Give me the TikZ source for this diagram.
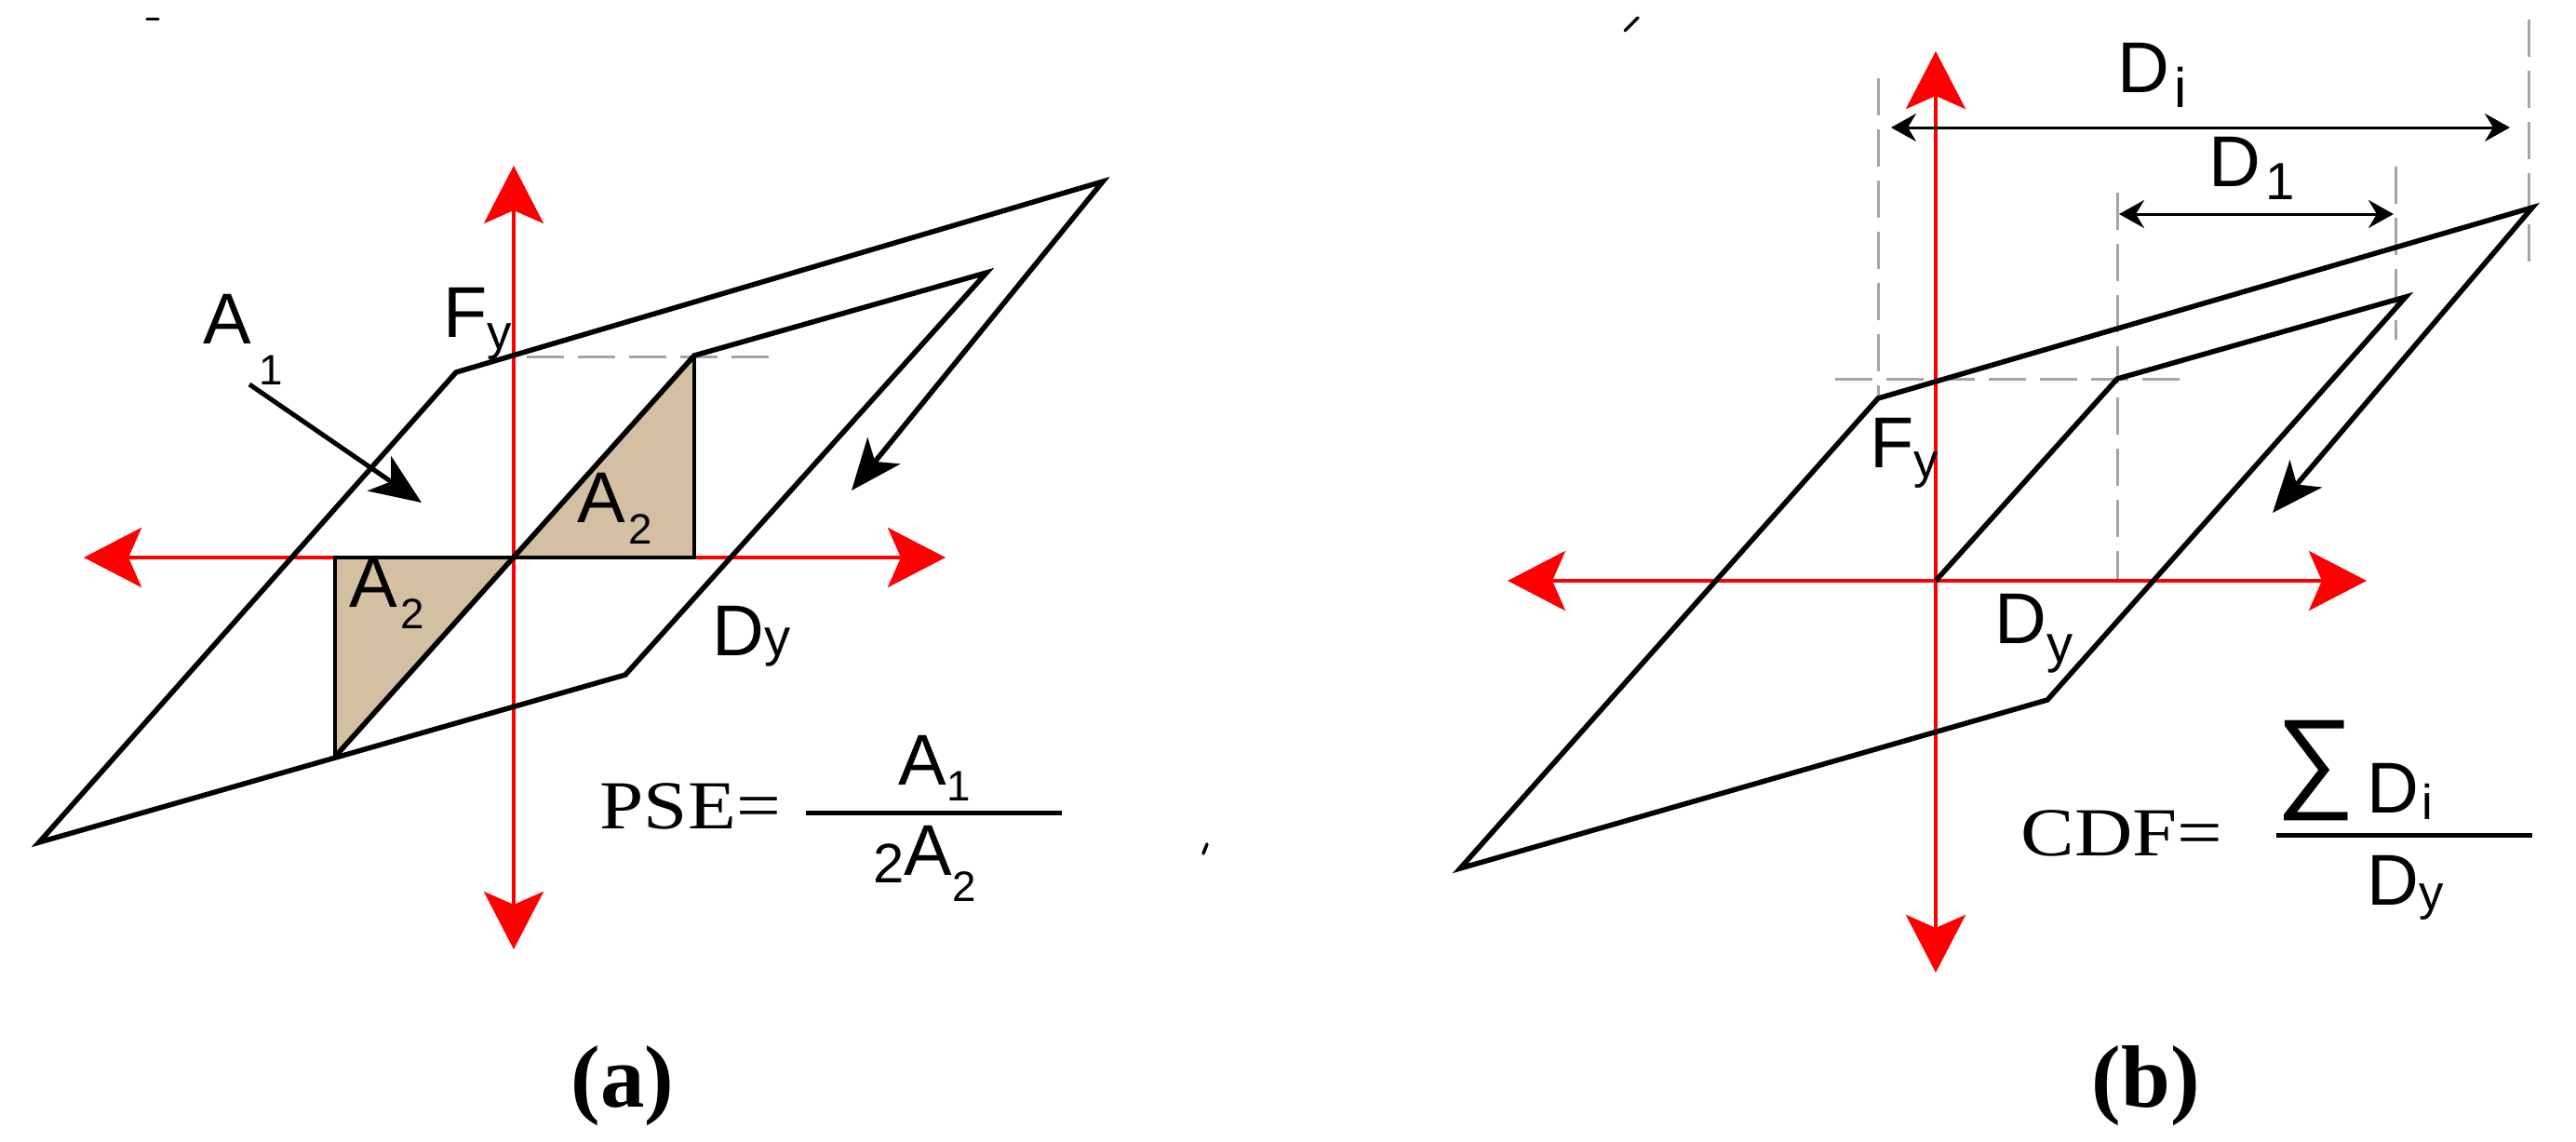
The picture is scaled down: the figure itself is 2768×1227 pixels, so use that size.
\documentclass[tikz,border=0pt]{standalone}
\usepackage{fontspec}
\setmainfont{Liberation Serif}
\newfontfamily\arialf{Liberation Sans}
\usetikzlibrary{arrows.meta}
\definecolor{axisred}{RGB}{255,0,0}
\definecolor{tanfill}{RGB}{211,191,161}
\definecolor{dashgray}{RGB}{165,165,165}
\newcommand\sbx[3]{\raisebox{-#1}{\fontsize{#2}{#2}\selectfont #3}}
\tikzset{
  loopline/.style={line width=0.055cm, line join=miter, black},
  axisline/.style={line width=0.04cm, axisred, {Stealth[length=0.62cm,width=0.64cm,inset=0.14cm]}-{Stealth[length=0.62cm,width=0.64cm,inset=0.14cm]}},
  retarrow/.style={loopline, {Stealth[length=0.55cm,width=0.45cm,inset=0.15cm]}-},
  pointer/.style={line width=0.05cm, -{Stealth[length=0.55cm,width=0.45cm,inset=0.15cm]}},
  dimline/.style={line width=0.03cm, {Stealth[length=0.27cm,width=0.3cm,inset=0.09cm]}-{Stealth[length=0.27cm,width=0.3cm,inset=0.09cm]}},
  guide/.style={line width=0.03cm, dashgray, dash pattern=on 0.4cm off 0.15cm},
  lab/.style={inner sep=0pt, anchor=base west, font=\arialf\fontsize{22}{22}\selectfont},
  eqlab/.style={inner sep=0pt, anchor=base west, font=\fontsize{21}{21}\selectfont},
  triedge/.style={draw=black, line width=0.035cm, line join=miter},
  fracbar/.style={line width=0.05cm},
  caption/.style={inner sep=0pt, font=\bfseries\fontsize{27}{27}\selectfont},
  stray/.style={line width=0.035cm, line cap=round},
}
\begin{document}
\begin{tikzpicture}[x=0.01cm,y=-0.01cm]
\useasboundingbox[fill=white] (0,0) rectangle (2768,1227);
% ---------------- panel (a) ----------------
\coordinate (Oa) at (552,599);
\coordinate (aT) at (552,178);
\coordinate (aB) at (552,1020);
\coordinate (aL) at (90,599);
\coordinate (aR) at (1016,599);
\coordinate (P1) at (42,905);
\coordinate (P2) at (490,400);
\coordinate (P3) at (1185,195);
\coordinate (P4) at (360,813);
\coordinate (P5) at (746,382);
\coordinate (P6) at (672,725);
\coordinate (P7) at (1060,293);
\coordinate (aTip) at (915,527);
\coordinate (tl) at (360,599);
\coordinate (tr) at (746,599);
\coordinate (a1s) at (268,413);
\coordinate (a1e) at (453,540);
\coordinate (gaS) at (566,383);
\coordinate (gaE) at (830,383);
\coordinate (barL) at (866,873);
\coordinate (barR) at (1141,873);
\fill[tanfill] (P4) -- (tl) -- (Oa) -- cycle;
\fill[tanfill] (Oa) -- (tr) -- (P5) -- cycle;
\draw[axisline] (aB) -- (aT);
\draw[axisline] (aL) -- (aR);
\draw[guide] (gaS) -- (gaE);
\draw[triedge] (P4) -- (tl) -- (Oa);
\draw[triedge] (Oa) -- (tr) -- (P5);
\draw[retarrow] (aTip) -- (P3) -- (P2) -- (P1) -- (P6) -- (P7) -- (P5) -- (P4);
\draw[pointer] (a1s) -- (a1e);
\node[lab] (A1lab) at (218,369) {A\kern0.08cm\sbx{0.44cm}{13}{1}};
\node[lab] (Fya) at (476,362) {F\sbx{0.13cm}{15}{y}};
\node[lab] (A2up) at (620,561) {A\kern0.03cm\sbx{0.23cm}{13}{2}};
\node[lab] (A2lo) at (375,652) {A\kern0.03cm\sbx{0.23cm}{13}{2}};
\node[lab] (Dya) at (765,704) {D\sbx{0.0cm}{16}{y}};
\node[eqlab] (pse) at (644,890) {\scalebox{1.15}[1]{PSE=}};
\draw[fracbar] (barL) -- (barR);
\node[lab] (numa) at (965,843) {A\sbx{0.17cm}{13}{1}};
\node[lab] (dena) at (938,948) {{\fontsize{17}{17}\selectfont 2}\raisebox{0.08cm}{A}\sbx{0.2cm}{13}{2}};
\node[caption] (capa) at (669,1167) {(a)};
\draw[stray] (158,20.5) -- (170,20.5);
\draw[stray] (1293,917) -- (1297,907);
% ---------------- panel (b) ----------------
\coordinate (Ob) at (2080,624);
\coordinate (bT) at (2080,55);
\coordinate (bB) at (2080,1045);
\coordinate (bL) at (1620,624);
\coordinate (bR) at (2543,624);
\coordinate (Q1) at (1569,933);
\coordinate (Q2) at (2018,428);
\coordinate (Q3) at (2721,223);
\coordinate (Q5) at (2275,407);
\coordinate (Q6) at (2200,752);
\coordinate (Q7) at (2585,319);
\coordinate (bTip) at (2442,551);
\coordinate (g1s) at (2018,84);
\coordinate (g1e) at (2018,428);
\coordinate (g2s) at (1972,407);
\coordinate (g2e) at (2357,407);
\coordinate (g3s) at (2275,207);
\coordinate (g3e) at (2275,624);
\coordinate (g4s) at (2574,179);
\coordinate (g4e) at (2574,365);
\coordinate (g5s) at (2717,21);
\coordinate (g5e) at (2717,291);
\coordinate (diL) at (2032,137);
\coordinate (diR) at (2697,137);
\coordinate (d1L) at (2277,230);
\coordinate (d1R) at (2572,230);
\coordinate (bbarL) at (2446,897);
\coordinate (bbarR) at (2721,897);
\draw[guide] (g1s) -- (g1e);
\draw[guide] (g2s) -- (g2e);
\draw[guide] (g3s) -- (g3e);
\draw[guide] (g4s) -- (g4e);
\draw[guide] (g5s) -- (g5e);
\draw[axisline] (bB) -- (bT);
\draw[axisline] (bL) -- (bR);
\draw[retarrow] (bTip) -- (Q3) -- (Q2) -- (Q1) -- (Q6) -- (Q7) -- (Q5) -- (Ob);
\draw[dimline] (diL) -- (diR);
\draw[dimline] (d1L) -- (d1R);
\node[lab] (Di) at (2275,100) {D\kern0.05cm\sbx{0.15cm}{17}{i}};
\node[lab] (D1) at (2373,200) {D\kern0.05cm\sbx{0.14cm}{16}{1}};
\node[lab] (Fyb) at (2009,502) {F\sbx{0.11cm}{15}{y}};
\node[lab] (Dyb) at (2143,691) {D\sbx{0.2cm}{16}{y}};
\node[eqlab] (cdf) at (2171,919) {\scalebox{1.17}[1]{CDF=}};
\node[inner sep=0pt, font=\arialf\fontsize{34}{34}\selectfont] (sig) at (2488,828) {∑};
\node[lab] (numb) at (2543,873) {D\kern0.03cm\sbx{0.07cm}{15}{i}};
\draw[fracbar] (bbarL) -- (bbarR);
\node[lab] (denb) at (2543,972) {D\sbx{0.05cm}{15}{y}};
\node[caption] (capb) at (2306,1167) {(b)};
\draw[stray] (1746,33) -- (1760,19);
\end{tikzpicture}
\end{document}
